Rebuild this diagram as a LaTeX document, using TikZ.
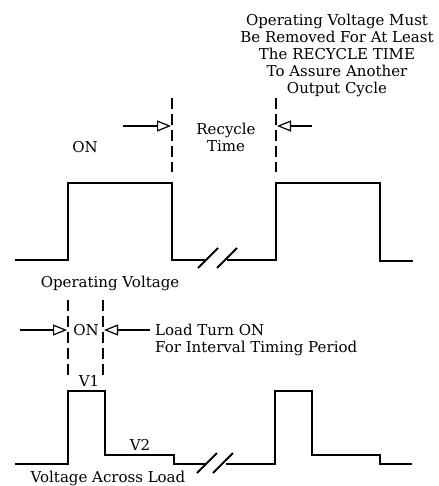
\documentclass[tikz,border=0pt]{standalone}
\usepackage{fontspec}
\setmainfont{DejaVu Serif}
\usetikzlibrary{arrows.meta,positioning}

\begin{document}
\begin{tikzpicture}[x=1pt,y=-1pt,font=\fontsize{15}{17}\selectfont,
  wave/.style={line width=1.8pt},
  marker/.style={line width=1.8pt,dash pattern=on 11pt off 5pt},
  pointer/.style={-{Triangle[open,length=14pt,width=11pt]},line width=1.2pt},
  lbl/.style={inner sep=0pt,align=center}]
  \useasboundingbox (0,0) rectangle (438,486);

  % operating voltage
  \draw[wave] (15,260) -- (68,260) -- (68,183) -- (172,183) -- (172,260) -- (206,260);
  \draw[wave] (227,260) -- (276,260) -- (276,183) -- (380,183) -- (380,261) -- (413,261);
  \draw[wave] (198,268) -- (218,248) (217,268) -- (237,248);
  \node[lbl] (opv) at (110,283) {Operating Voltage};

  \coordinate (r1t) at (172,98);  \coordinate (r1b) at (172,172);
  \coordinate (r2t) at (276,98);  \coordinate (r2b) at (276,172);
  \draw[marker] (r1t) -- (r1b);
  \draw[marker] (r2t) -- (r2b);
  \coordinate (r1a) at (123,126); \coordinate (r1e) at (171,126);
  \coordinate (r2a) at (312,126); \coordinate (r2e) at (277,126);
  \draw[pointer] (r1a) -- (r1e);
  \draw[pointer] (r2a) -- (r2e);

  \node[lbl] (on1) at (85,147) {ON};
  \node[lbl] (rec) at (226,137) {Recycle\\Time};
  \node[lbl] (note) at (337,55) {Operating Voltage Must\\Be Removed For At Least\\The RECYCLE TIME\\To Assure Another\\Output Cycle};

  % voltage across load
  \draw[wave] (15,464) -- (68,464) -- (68,391) -- (105,391) -- (105,455) -- (174,455) -- (174,464) -- (205,464);
  \draw[wave] (226,464) -- (275,464) -- (275,391) -- (312,391) -- (312,455) -- (380,455) -- (380,464) -- (412,464);
  \draw[wave] (197,473) -- (217,453) (213,473) -- (233,453);
  \node[lbl] (val) at (108,478) {Voltage Across Load};

  \coordinate (l1t) at (68,300);  \coordinate (l1b) at (68,380);
  \coordinate (l2t) at (103,300); \coordinate (l2b) at (103,380);
  \draw[marker] (l1t) -- (l1b);
  \draw[marker] (l2t) -- (l2b);
  \coordinate (l1a) at (20,330);  \coordinate (l1e) at (67,330);
  \coordinate (l2a) at (150,330); \coordinate (l2e) at (104,330);
  \draw[pointer] (l1a) -- (l1e);
  \draw[pointer] (l2a) -- (l2e);

  \node[lbl] (on2) at (86,330) {ON};
  \node[lbl,anchor=west,align=left] (turn) at (155,339.5) {Load Turn ON\\For Interval Timing Period};
  \node[lbl] (v1) at (89,381) {V1};
  \node[lbl] (v2) at (140,445) {V2};
\end{tikzpicture}
\end{document}
